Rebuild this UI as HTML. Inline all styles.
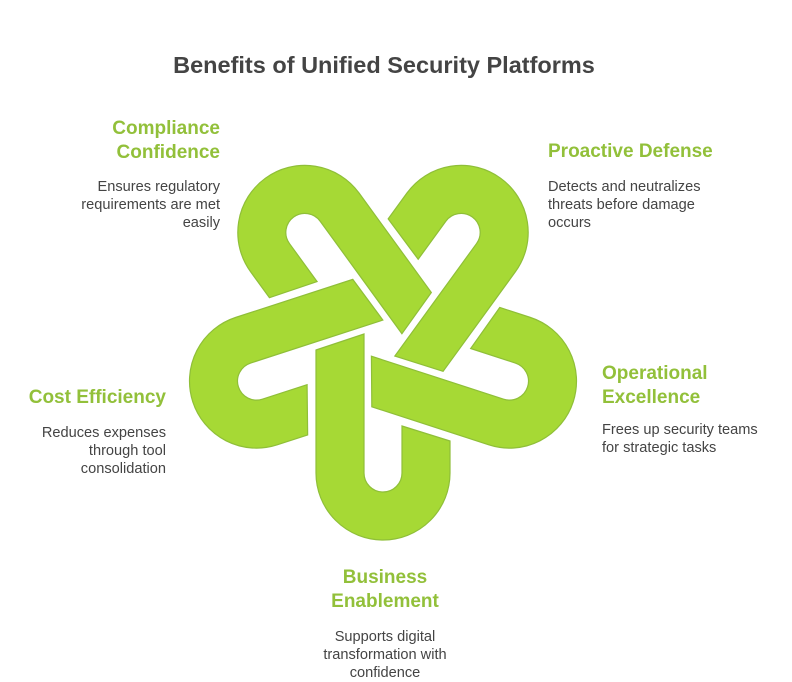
<!DOCTYPE html>
<html><head><meta charset="utf-8"><style>
body{margin:0;width:792px;height:678px;background:#fff;position:relative;overflow:hidden;font-family:"Liberation Sans",sans-serif}
.t{position:absolute;white-space:nowrap}
.h{font-weight:bold;font-size:19px;color:#92c03a;line-height:24px}
.d{font-size:14.6px;color:#444;line-height:18px}
.r{text-align:right}.c{text-align:center}
</style></head><body>
<div class="t" style="left:0;width:768px;top:52px;text-align:center;font-weight:bold;font-size:23.5px;color:#444">Benefits of Unified Security Platforms</div>
<svg width="792" height="678" style="position:absolute;left:0;top:0">
<defs><path id="u" d="M -67,10 L -19,-6 L -19,133 A 19 19 0 0 0 19,133 L 19,86 L 67,101 L 67,133 A 67 67 0 0 1 -67,133 Z" fill="#a6d935" stroke="#8fbf38" stroke-width="1.2"/></defs>
<g transform="translate(383,340)">
<use href="#u"/>
<use href="#u" transform="rotate(72)"/>
<use href="#u" transform="rotate(144)"/>
<use href="#u" transform="rotate(216)"/>
<use href="#u" transform="rotate(288)"/>
</g></svg>
<div class="t h r" style="right:572px;top:117px">Compliance<br>Confidence</div>
<div class="t d r" style="right:572px;top:178px">Ensures regulatory<br>requirements are met<br>easily</div>
<div class="t h" style="left:548px;top:140px">Proactive Defense</div>
<div class="t d" style="left:548px;top:178px">Detects and neutralizes<br>threats before damage<br>occurs</div>
<div class="t h" style="left:602px;top:362px">Operational<br>Excellence</div>
<div class="t d" style="left:602px;top:421px">Frees up security teams<br>for strategic tasks</div>
<div class="t h r" style="right:626px;top:386px">Cost Efficiency</div>
<div class="t d r" style="right:626px;top:424px">Reduces expenses<br>through tool<br>consolidation</div>
<div class="t h c" style="left:285px;width:200px;top:566px">Business<br>Enablement</div>
<div class="t d c" style="left:285px;width:200px;top:628px">Supports digital<br>transformation with<br>confidence</div>
</body></html>
